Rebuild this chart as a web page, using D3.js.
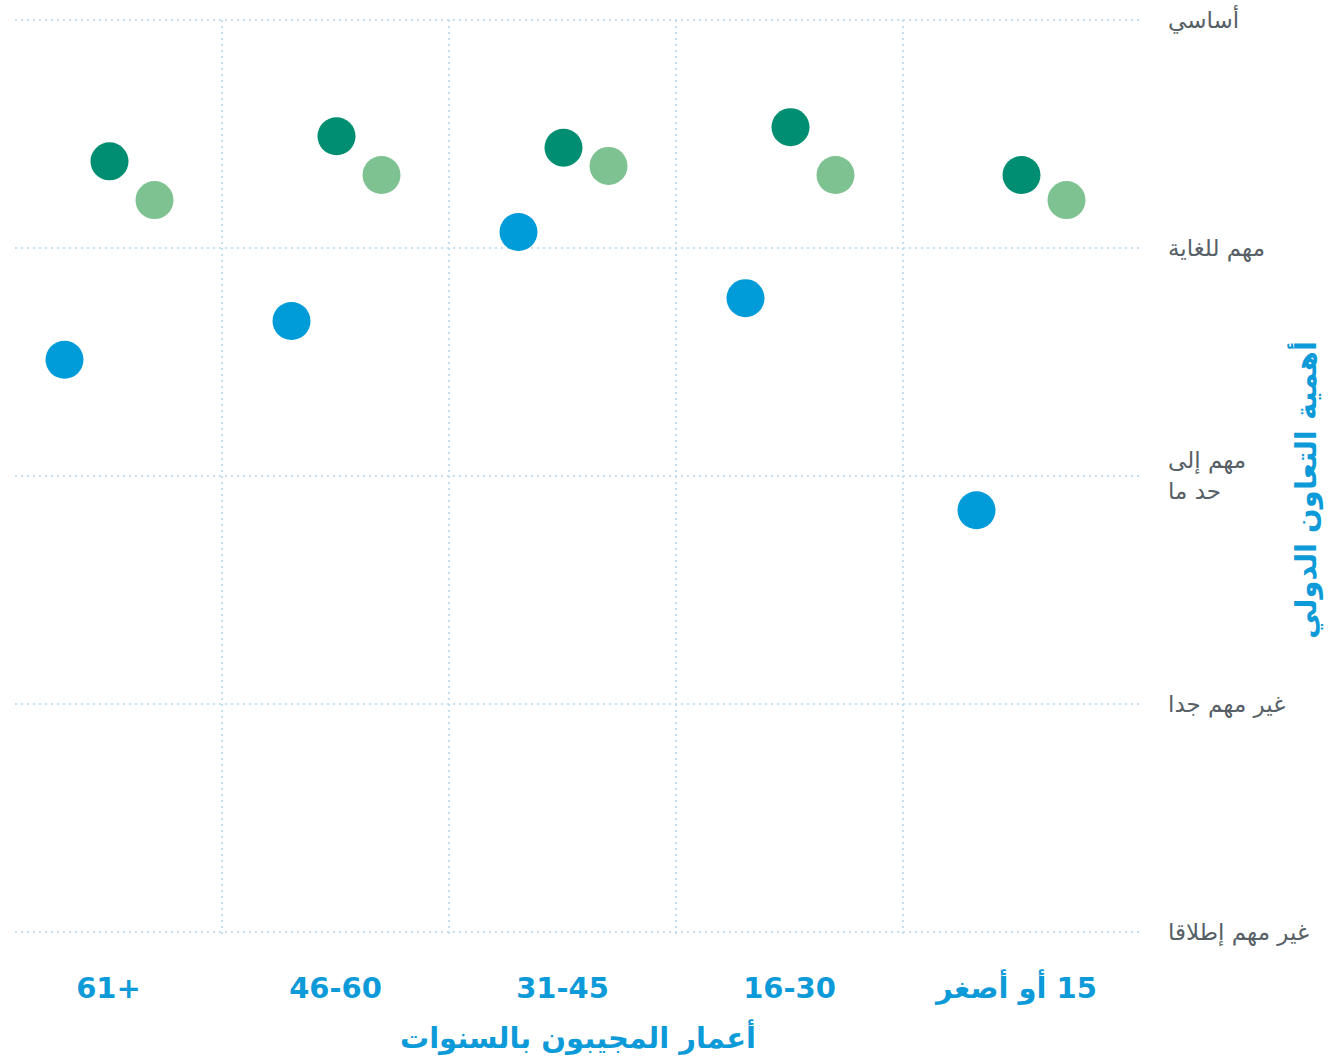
<!DOCTYPE html>
<meta charset="utf-8">
<style>
body { margin: 0; background: #fff; }
svg text { font-family: "DejaVu Sans", "Noto Sans", sans-serif; }
.grid line { stroke: #c4dff1; stroke-width: 2; stroke-dasharray: 2 4; }
.ylab { fill: #575f67; font-size: 23px; }
.xlab { fill: #0d9ad8; font-size: 29px; font-weight: bold; }
.title { fill: #0d9ad8; font-size: 29px; font-weight: bold; }
</style>
<svg id="chart"></svg>
<script src="https://cdnjs.cloudflare.com/ajax/libs/d3/7.8.5/d3.min.js"></script>
<script>

// فئات العمر من اليسار إلى اليمين
var ageGroups = ["61+", "46-60", "31-45", "16-30", "15 أو أصغر"];

// مستويات الأهمية (1 = غير مهم إطلاقا ... 5 = أساسي)
var levels = [1, 2, 3, 4, 5];
var levelLabels = [["غير مهم إطلاقا"], ["غير مهم جدا"], ["مهم إلى", "حد ما"], ["مهم للغاية"], ["أساسي"]];

var seriesNames = ["blue", "darkGreen", "lightGreen"];
var seriesColors = ["#009bd9", "#008e72", "#7fc291"];

var blueValues = [3.51, 3.68, 4.07, 3.78, 2.85];
var darkGreenValues = [4.38, 4.49, 4.44, 4.53, 4.32];
var lightGreenValues = [4.21, 4.32, 4.36, 4.32, 4.21];

var width = 1331, height = 1059;

var svg = d3.select("#chart")
    .attr("width", width)
    .attr("height", height);

var x = d3.scaleBand()
    .domain(ageGroups)
    .range([-5, 1130]);

var inner = d3.scalePoint()
    .domain(seriesNames)
    .range([-44, 46]);

var y = d3.scaleLinear()
    .domain([1, 5])
    .range([932, 20]);

var grid = svg.append("g").attr("class", "grid");

// خطوط أفقية
grid.selectAll(".h")
    .data(levels)
  .enter().append("line")
    .attr("x1", 15)
    .attr("x2", 1143)
    .attr("y1", function(d) { return y(d); })
    .attr("y2", function(d) { return y(d); });

// خطوط عمودية بين الفئات
grid.selectAll(".v")
    .data(ageGroups.slice(1))
  .enter().append("line")
    .attr("x1", function(d) { return x(d); })
    .attr("x2", function(d) { return x(d); })
    .attr("y1", y(5))
    .attr("y2", y(1) + 4);

// تسميات المحور الرأسي
var yl = svg.selectAll(".ylab")
    .data(levels)
  .enter().append("text")
    .attr("class", "ylab")
    .attr("x", 1168)
    .attr("y", function(d, i) {
      var n = levelLabels[i].length;
      return y(d) + 8 - (n - 1) * 16;
    });

yl.each(function(d, i) {
  var t = d3.select(this);
  levelLabels[i].forEach(function(line, j) {
    t.append("tspan")
      .attr("x", 1168)
      .attr("dy", j === 0 ? 0 : 31)
      .text(line);
  });
});

// النقاط
var series = [blueValues, darkGreenValues, lightGreenValues];

series.forEach(function(vals, s) {
  svg.append("g").selectAll("circle")
      .data(vals)
    .enter().append("circle")
      .attr("cx", function(d, i) {
        var shift = i === ageGroups.length - 1 ? 4 : 0;
        return x(ageGroups[i]) + x.bandwidth() / 2 + inner(seriesNames[s]) + shift;
      })
      .attr("cy", function(d) { return y(d); })
      .attr("r", 19)
      .attr("fill", seriesColors[s]);
});

// تسميات الفئات
svg.selectAll(".xlab")
    .data(ageGroups)
  .enter().append("text")
    .attr("class", "xlab")
    .attr("x", function(d) { return x(d) + x.bandwidth() / 2; })
    .attr("y", 998)
    .attr("text-anchor", "middle")
    .attr("direction", function(d) { return /[\u0600-\u06FF]/.test(d) ? "rtl" : "ltr"; })
    .text(function(d) { return d; });

svg.append("text")
    .attr("class", "title")
    .attr("x", 578)
    .attr("y", 1048)
    .attr("text-anchor", "middle")
    .text("أعمار المجيبون بالسنوات");

svg.append("text")
    .attr("class", "title")
    .attr("transform", "translate(1316,490) rotate(-90)")
    .attr("text-anchor", "middle")
    .text("أهمية التعاون الدولي");

</script>
